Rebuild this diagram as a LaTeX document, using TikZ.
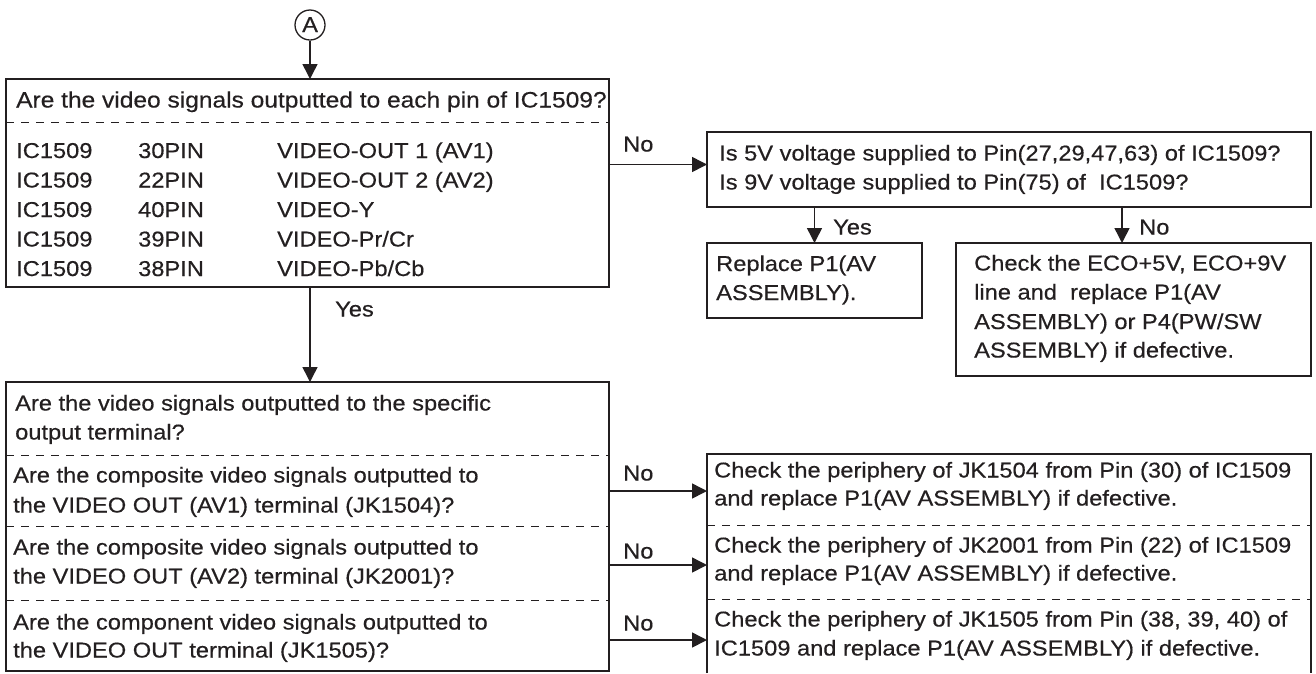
\documentclass[tikz,border=0pt]{standalone}
\usepackage{fontspec}
\setmainfont{Liberation Sans}[FakeStretch=1.1,FakeBold=0.4]
\usetikzlibrary{arrows.meta}
\definecolor{ink}{HTML}{231F20}
\begin{document}
\begin{tikzpicture}[x=1pt,y=-1pt,
  font=\fontsize{21.5}{26}\selectfont, color=ink,
  box/.style={draw=ink, line width=1.5pt, rectangle, inner sep=0pt, outer sep=0pt, anchor=north west},
  frame/.style={rectangle, inner sep=0pt, outer sep=0pt, anchor=north west},
  txt/.style={anchor=base west, inner sep=0pt, text=ink},
  arr/.style={draw=ink, line width=1.5pt, -{Triangle[length=15pt,width=15pt]}},
  sep/.style={draw=ink, line width=1pt, dash pattern=on 8pt off 7pt}]
\useasboundingbox (0,0) rectangle (1316,673);
\fill[white] (0,0) rectangle (1316,673);

% connector circle
\node[draw=ink, circle, line width=1.3pt, minimum size=30pt, inner sep=0pt] (A) at (310,25) {};
\node[txt] (Atxt) at (302,32) {A};

% boxes
\node[box, minimum width=603pt, minimum height=208pt] (b1) at (6,79) {};
\node[box, minimum width=604pt, minimum height=75pt] (b2) at (707,132) {};
\node[box, minimum width=215pt, minimum height=75pt] (b3) at (707,243) {};
\node[box, minimum width=355pt, minimum height=133pt] (b4) at (956,243) {};
\node[box, minimum width=603pt, minimum height=289pt] (b5) at (6,382) {};
\node[frame, minimum width=604pt, minimum height=219pt] (b6) at (707,454) {};
\draw[line width=1.5pt] (b6.south west) -- (b6.north west) -- (b6.north east) -- (b6.south east);

% dashed separators
\coordinate (d1) at (0,122);
\coordinate (d2) at (0,455);
\coordinate (d3) at (0,526);
\coordinate (d4) at (0,600);
\coordinate (d5) at (0,525);
\coordinate (d6) at (0,599);
\draw[sep] (b1.west |- d1) -- (b1.east |- d1);
\draw[sep] (b5.west |- d2) -- (b5.east |- d2);
\draw[sep] (b5.west |- d3) -- (b5.east |- d3);
\draw[sep] (b5.west |- d4) -- (b5.east |- d4);
\draw[sep] (b6.west |- d5) -- (b6.east |- d5);
\draw[sep] (b6.west |- d6) -- (b6.east |- d6);

% box 1 text
\node[txt, font=\fontsize{22.3}{26}\selectfont] (q1) at (16,107.5) {Are the video signals outputted to each pin of IC1509?};
\node[txt] (r1a) at (16,158) {IC1509};
\node[txt] (r1b) at (138,158) {30PIN};
\node[txt] (r1c) at (277,158) {VIDEO-OUT 1 (AV1)};
\node[txt] (r2a) at (16,187.5) {IC1509};
\node[txt] (r2b) at (138,187.5) {22PIN};
\node[txt] (r2c) at (277,187.5) {VIDEO-OUT 2 (AV2)};
\node[txt] (r3a) at (16,217) {IC1509};
\node[txt] (r3b) at (138,217) {40PIN};
\node[txt] (r3c) at (277,217) {VIDEO-Y};
\node[txt] (r4a) at (16,246.5) {IC1509};
\node[txt] (r4b) at (138,246.5) {39PIN};
\node[txt] (r4c) at (277,246.5) {VIDEO-Pr/Cr};
\node[txt] (r5a) at (16,276) {IC1509};
\node[txt] (r5b) at (138,276) {38PIN};
\node[txt] (r5c) at (277,276) {VIDEO-Pb/Cb};

% box 2 text
\node[txt] (q2a) at (719,160.5) {Is 5V voltage supplied to Pin(27,29,47,63) of IC1509?};
\node[txt] (q2b) at (719,189.5) {Is 9V voltage supplied to Pin(75) of\ \ IC1509?};

% box 3 text
\node[txt] (s3a) at (716,271) {Replace P1(AV};
\node[txt] (s3b) at (716,300) {ASSEMBLY).};

% box 4 text
\node[txt] (s4a) at (974,270.5) {Check the ECO+5V, ECO+9V};
\node[txt] (s4b) at (974,299.5) {line and\ \ replace P1(AV};
\node[txt] (s4c) at (974,329) {ASSEMBLY) or P4(PW/SW};
\node[txt] (s4d) at (974,357.5) {ASSEMBLY) if defective.};

% box 5 text
\node[txt] (q5a) at (15,410.5) {Are the video signals outputted to the specific};
\node[txt] (q5b) at (15,439.5) {output terminal?};
\node[txt] (q5c) at (13,482.5) {Are the composite video signals outputted to};
\node[txt] (q5d) at (13,512.5) {the VIDEO OUT (AV1) terminal (JK1504)?};
\node[txt] (q5e) at (13,554.5) {Are the composite video signals outputted to};
\node[txt] (q5f) at (13,583.5) {the VIDEO OUT (AV2) terminal (JK2001)?};
\node[txt] (q5g) at (13,629.5) {Are the component video signals outputted to};
\node[txt] (q5h) at (13,657.5) {the VIDEO OUT terminal (JK1505)?};

% box 6 text
\node[txt] (s6a) at (714,477.5) {Check the periphery of JK1504 from Pin (30) of IC1509};
\node[txt] (s6b) at (714,505.5) {and replace P1(AV ASSEMBLY) if defective.};
\node[txt] (s6c) at (714,552.5) {Check the periphery of JK2001 from Pin (22) of IC1509};
\node[txt] (s6d) at (714,580.5) {and replace P1(AV ASSEMBLY) if defective.};
\node[txt] (s6e) at (714,626.5) {Check the periphery of JK1505 from Pin (38, 39, 40) of};
\node[txt] (s6f) at (714,655.5) {IC1509 and replace P1(AV ASSEMBLY) if defective.};

% connectors
\coordinate (yno1) at (0,164.5);
\coordinate (yno2) at (0,491);
\coordinate (yno3) at (0,565);
\coordinate (yno4) at (0,640);
\coordinate (xno) at (1122,0);

\draw[arr] (A.south) -- (A.south |- b1.north);
\draw[arr] (b1.south -| A) -- (b5.north -| A);
\draw[arr] (b1.east |- yno1) -- (b2.west |- yno1);
\draw[arr] (b3.north |- b2.south) -- (b3.north);
\draw[arr] (xno |- b2.south) -- (xno |- b4.north);
\draw[arr] (b5.east |- yno2) -- (b6.west |- yno2);
\draw[arr] (b5.east |- yno3) -- (b6.west |- yno3);
\draw[arr] (b5.east |- yno4) -- (b6.west |- yno4);

% labels
\node[txt] (lno1) at (623,151.5) {No};
\node[txt] (lyes1) at (335,316.5) {Yes};
\node[txt] (lyes2) at (833,234.5) {Yes};
\node[txt] (lno2) at (1139,234.5) {No};
\node[txt] (lno3) at (623,480.5) {No};
\node[txt] (lno4) at (623,558.5) {No};
\node[txt] (lno5) at (623,630.5) {No};
\end{tikzpicture}
\end{document}
